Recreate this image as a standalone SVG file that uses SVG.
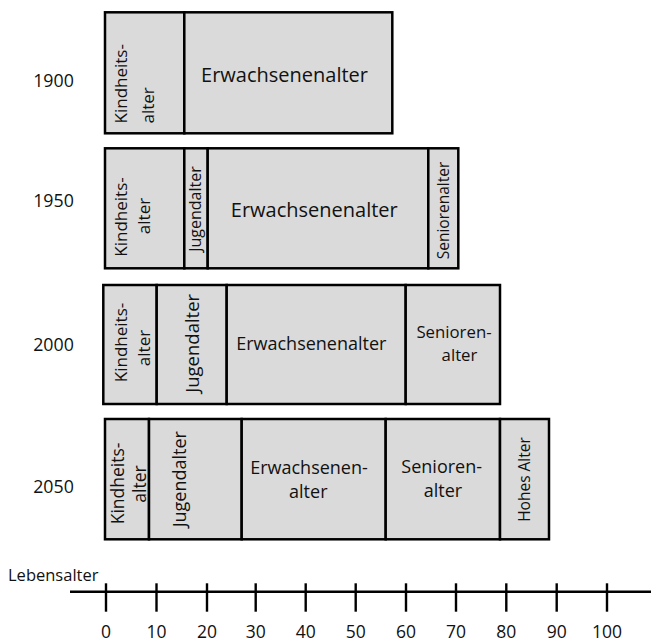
<svg xmlns="http://www.w3.org/2000/svg" width="651" height="644" viewBox="0 0 651 644">
<style>
  .seg { fill: #dadada; stroke: #000; stroke-width: 2.5; }
  text { font-family: "Open Sans", "Noto Sans", "Liberation Sans", sans-serif; fill: #111; }
  .m { text-anchor: middle; }
  .s { text-anchor: start; }
  .axis { stroke: #000; stroke-width: 2.6; fill: none; }
  .tick { stroke: #000; stroke-width: 2.4; }
</style>

<!-- Year labels -->
<g id="years" font-size="17.8">
  <text class="m" x="53.5" y="86.5">1900</text>
  <text class="m" x="53.5" y="207.3">1950</text>
  <text class="m" x="53.5" y="350.7">2000</text>
  <text class="m" x="53.5" y="493.3">2050</text>
</g>

<!-- Row 1900 -->
<g id="row1900">
  <g id="r1-kindheit">
    <rect class="seg" x="105" y="12.3" width="79.3" height="121"/>
    <text class="s" font-size="17" transform="translate(127,123.5) rotate(-90)">Kindheits-</text>
    <text class="s" font-size="17" transform="translate(153.5,123.5) rotate(-90)">alter</text>
  </g>
  <g id="r1-erwachsen">
    <rect class="seg" x="184.3" y="12.3" width="208" height="121"/>
    <text class="m" font-size="20" x="284.5" y="82.3">Erwachsenenalter</text>
  </g>
</g>

<!-- Row 1950 -->
<g id="row1950">
  <g id="r2-kindheit">
    <rect class="seg" x="105" y="148.3" width="79.3" height="120"/>
    <text class="m" font-size="17" transform="translate(127,217) rotate(-90)">Kindheits-</text>
    <text class="m" font-size="17" transform="translate(150,216) rotate(-90)">alter</text>
  </g>
  <g id="r2-jugend">
    <rect class="seg" x="184.3" y="148.3" width="23.4" height="120"/>
    <text class="m" font-size="16" transform="translate(201,209) rotate(-90)">Jugendalter</text>
  </g>
  <g id="r2-erwachsen">
    <rect class="seg" x="207.7" y="148.3" width="220.6" height="120"/>
    <text class="m" font-size="20" x="314.3" y="217.3">Erwachsenenalter</text>
  </g>
  <g id="r2-senioren">
    <rect class="seg" x="428.3" y="148.3" width="30" height="120"/>
    <text class="m" font-size="15.5" transform="translate(449,210.5) rotate(-90)">Seniorenalter</text>
  </g>
</g>

<!-- Row 2000 -->
<g id="row2000">
  <g id="r3-kindheit">
    <rect class="seg" x="103.3" y="285" width="53.4" height="119"/>
    <text class="m" font-size="17" transform="translate(127,342.5) rotate(-90)">Kindheits-</text>
    <text class="m" font-size="17" transform="translate(150,348) rotate(-90)">alter</text>
  </g>
  <g id="r3-jugend">
    <rect class="seg" x="156.7" y="285" width="70" height="119"/>
    <text class="m" font-size="18.5" transform="translate(199,343.3) rotate(-90)">Jugendalter</text>
  </g>
  <g id="r3-erwachsen">
    <rect class="seg" x="226.7" y="285" width="179" height="119"/>
    <text class="m" font-size="18" x="311.3" y="350">Erwachsenenalter</text>
  </g>
  <g id="r3-senioren">
    <rect class="seg" x="405.7" y="285" width="94.3" height="119"/>
    <text class="m" font-size="16.8" x="454" y="337.5">Senioren-</text>
    <text class="m" font-size="16.8" x="459.5" y="360.5">alter</text>
  </g>
</g>

<!-- Row 2050 -->
<g id="row2050">
  <g id="r4-kindheit">
    <rect class="seg" x="105" y="419" width="44" height="120.3"/>
    <text class="m" font-size="17.5" transform="translate(124,483.4) rotate(-90)">Kindheits-</text>
    <text class="m" font-size="17.5" transform="translate(145.5,484) rotate(-90)">alter</text>
  </g>
  <g id="r4-jugend">
    <rect class="seg" x="149" y="419" width="92.7" height="120.3"/>
    <text class="m" font-size="18" transform="translate(186,479.2) rotate(-90)">Jugendalter</text>
  </g>
  <g id="r4-erwachsen">
    <rect class="seg" x="241.7" y="419" width="144" height="120.3"/>
    <text class="m" font-size="18" x="309" y="473.5">Erwachsenen-</text>
    <text class="m" font-size="18" x="308.3" y="497.5">alter</text>
  </g>
  <g id="r4-senioren">
    <rect class="seg" x="385.7" y="419" width="114.3" height="120.3"/>
    <text class="m" font-size="18" x="441.7" y="473">Senioren-</text>
    <text class="m" font-size="18" x="443" y="497">alter</text>
  </g>
  <g id="r4-hohes">
    <rect class="seg" x="500" y="419" width="49" height="120.3"/>
    <text class="m" font-size="15.5" transform="translate(530,479.5) rotate(-90)">Hohes Alter</text>
  </g>
</g>

<!-- Axis -->
<g id="connectors">
  <line class="axis" x1="70" y1="591.7" x2="651" y2="591.7"/>
  <g class="tick">
    <line x1="106" y1="583.3" x2="106" y2="611.7"/>
    <line x1="156.5" y1="583.3" x2="156.5" y2="611.7"/>
    <line x1="207" y1="583.3" x2="207" y2="611.7"/>
    <line x1="255.7" y1="583.3" x2="255.7" y2="611.7"/>
    <line x1="305.7" y1="583.3" x2="305.7" y2="611.7"/>
    <line x1="355.7" y1="583.3" x2="355.7" y2="611.7"/>
    <line x1="406" y1="583.3" x2="406" y2="611.7"/>
    <line x1="456" y1="583.3" x2="456" y2="611.7"/>
    <line x1="506.3" y1="583.3" x2="506.3" y2="611.7"/>
    <line x1="556.7" y1="583.3" x2="556.7" y2="611.7"/>
    <line x1="607" y1="583.3" x2="607" y2="611.7"/>
  </g>
</g>

<g id="axis-labels" font-size="17.5">
  <text class="s" font-size="16.5" x="8" y="580.5">Lebensalter</text>
  <text class="m" x="106" y="638">0</text>
  <text class="m" x="156.5" y="638">10</text>
  <text class="m" x="207" y="638">20</text>
  <text class="m" x="255.7" y="638">30</text>
  <text class="m" x="305.7" y="638">40</text>
  <text class="m" x="355.7" y="638">50</text>
  <text class="m" x="406" y="638">60</text>
  <text class="m" x="456" y="638">70</text>
  <text class="m" x="506.3" y="638">80</text>
  <text class="m" x="556.7" y="638">90</text>
  <text class="m" x="607" y="638">100</text>
</g>
</svg>
